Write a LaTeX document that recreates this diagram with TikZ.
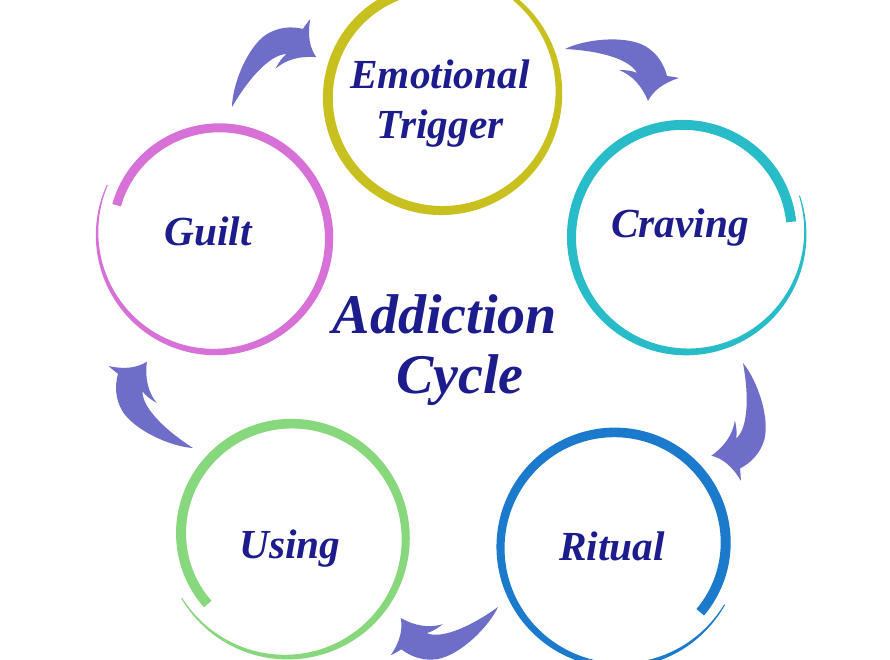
\documentclass[tikz,border=0pt]{standalone}
\usepackage{fontspec}
\setmainfont{Liberation Serif}
\definecolor{txtc}{RGB}{28,28,140}
\definecolor{arrowc}{RGB}{110,110,200}
\definecolor{cEmo}{RGB}{200,192,30}
\definecolor{cCrav}{RGB}{40,188,200}
\definecolor{cRit}{RGB}{28,122,205}
\definecolor{cUse}{RGB}{135,215,125}
\definecolor{cGuilt}{RGB}{215,112,215}
\tikzset{
  lbl/.style={text=txtc, font=\fontsize{31}{37.5}\selectfont\bfseries\itshape, inner sep=0pt, anchor=base, align=center},
  titlelbl/.style={text=txtc, font=\fontsize{42}{45}\selectfont\bfseries\itshape, inner sep=0pt, anchor=base},
}
% #1 colour, #2 cx, #3 cy, #4 start radius, #5 drift, #6 start angle, #7 sweep, #8 start width, #9 end width
\newcommand\brushstroke[9]{%
  \fill[#1] plot[variable=\t,domain=0:1,samples=180,smooth]
   ({#2+(#4+(#5)*\t+0.5*(#9+(#8-#9)*(1-\t*\t*\t)))*cos((#6)+(#7)*\t)},
    {#3+(#4+(#5)*\t+0.5*(#9+(#8-#9)*(1-\t*\t*\t)))*sin((#6)+(#7)*\t)})
   -- plot[variable=\t,domain=1:0,samples=180,smooth]
   ({#2+(#4+(#5)*\t-0.5*(#9+(#8-#9)*(1-\t*\t*\t)))*cos((#6)+(#7)*\t)},
    {#3+(#4+(#5)*\t-0.5*(#9+(#8-#9)*(1-\t*\t*\t)))*sin((#6)+(#7)*\t)})
   -- cycle;}
% swoosh arrow: #1 tail coordinate, #2 rotation
\newcommand\swoosh[2]{%
  \fill[arrowc, shift={(#1)}, rotate=#2]
   (0,0) .. controls (20,-10) and (60,-14) .. (80,-3)
   .. controls (92,4) and (99,15) .. (102,27)
   .. controls (106,27.5) and (110,28) .. (114,29)
   .. controls (98,34) and (88,42) .. (83,52)
   .. controls (77,37) and (67,26) .. (54,21)
   .. controls (62,21) and (68,22) .. (72,24)
   .. controls (66,12) and (40,2) .. (0,0) -- cycle;}
\begin{document}
\begin{tikzpicture}[x=0.75pt,y=-0.75pt]
\useasboundingbox (0,0) rectangle (890,660);
\clip (0,0) rectangle (890,660);
\fill[white] (0,0) rectangle (890,660);

% circles (brush strokes)
\brushstroke{cEmo}{439}{95}{107}{18}{-95}{-370}{10}{1}
\brushstroke{cCrav}{685}{235}{107}{14}{-7}{-372}{10}{1}
\brushstroke{cRit}{617}{545}{107}{16}{39}{-370}{10}{1}
\brushstroke{cUse}{289}{536}{106}{18}{140}{370}{10}{1}
\brushstroke{cGuilt}{217}{236}{105}{16}{197}{368}{9}{1}

% arrow tails
\coordinate (t1) at (232,107);
\coordinate (t2) at (565,49);
\coordinate (t3) at (743,363);
\coordinate (t4) at (498,607);
\coordinate (t5) at (193,448);
\swoosh{t1}{62.6}
\swoosh{t2}{0}
\swoosh{t3}{-76.8}
\swoosh{t4}{-141.5}
\swoosh{t5}{150.1}

% labels
\node[lbl] (emo) at (440,138) {Emotional\\Trigger};
\node[lbl] (crav) at (680,238) {Craving};
\node[lbl] (rit) at (612,560) {Ritual};
\node[lbl] (use) at (290,558) {Using};
\node[lbl] (guilt) at (208,245) {Guilt};
\node[titlelbl] (add) at (445,333) {Addiction};
\node[titlelbl] (cyc) at (460,393) {Cycle};
\end{tikzpicture}
\end{document}
